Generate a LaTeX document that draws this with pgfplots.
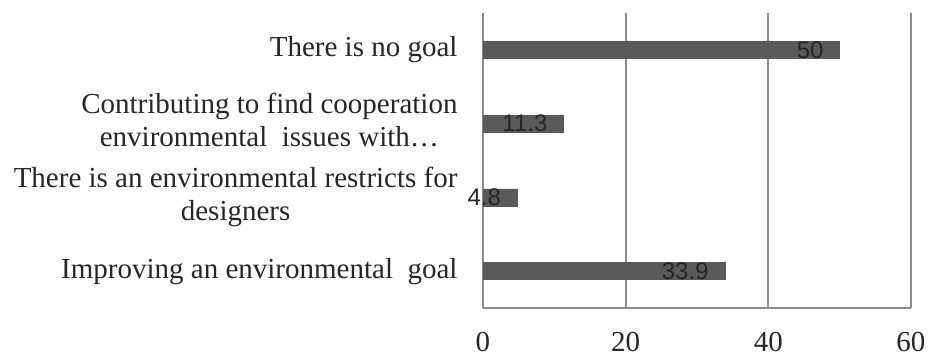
\documentclass[border=0pt]{standalone}
\usepackage{fontspec}
\setmainfont{Liberation Serif}
\newfontfamily\labelfont{Liberation Sans}
\usepackage{pgfplots}
\pgfplotsset{compat=1.18}
\definecolor{barc}{HTML}{5A5A5A}
\definecolor{gridc}{HTML}{8C8C8C}
\definecolor{txtc}{HTML}{262626}
\begin{document}
\begin{tikzpicture}
\begin{axis}[
  name=ax,
  scale only axis,
  width=428pt, height=295pt,
  xbar,
  xmin=0, xmax=60,
  ymin=-0.5, ymax=3.5,
  bar width=17pt,
  axis x line=bottom, axis y line=left,
  axis line style={draw=gridc, line width=2pt, -},
  xtick={0,20,40,60},
  ytick={0,1,2,3},
  yticklabels={
    {Improving an environmental\ \ goal},
    {\begin{tabular}{@{}c@{}}There is an environmental restricts for\\designers\end{tabular}},
    {\begin{tabular}{@{}c@{}}Contributing to find cooperation\\environmental\ \ issues with\dots\end{tabular}},
    {There is no goal}},
  major tick length=0pt,
  xmajorgrids,
  major grid style={draw=gridc, line width=2pt},
  /pgf/number format/assume math mode=true,
  every tick label/.append style={font=\fontsize{29}{33}\selectfont, text=txtc},
  xticklabel style={yshift=-21pt},
  yticklabel style={xshift=-22pt},
  nodes near coords,
  nodes near coords style={anchor=east, inner sep=0pt, xshift=-16pt, font=\labelfont\fontsize{24}{26}\selectfont, text=txtc},
]
\addplot[fill=barc, draw=barc] coordinates {(33.9,0) (4.8,1) (11.3,2) (50,3)};
\end{axis}
\pgfresetboundingbox
\path (ax.south west) +(-483pt,-52pt) (ax.north east) +(18pt,13pt);
\end{tikzpicture}
\end{document}
